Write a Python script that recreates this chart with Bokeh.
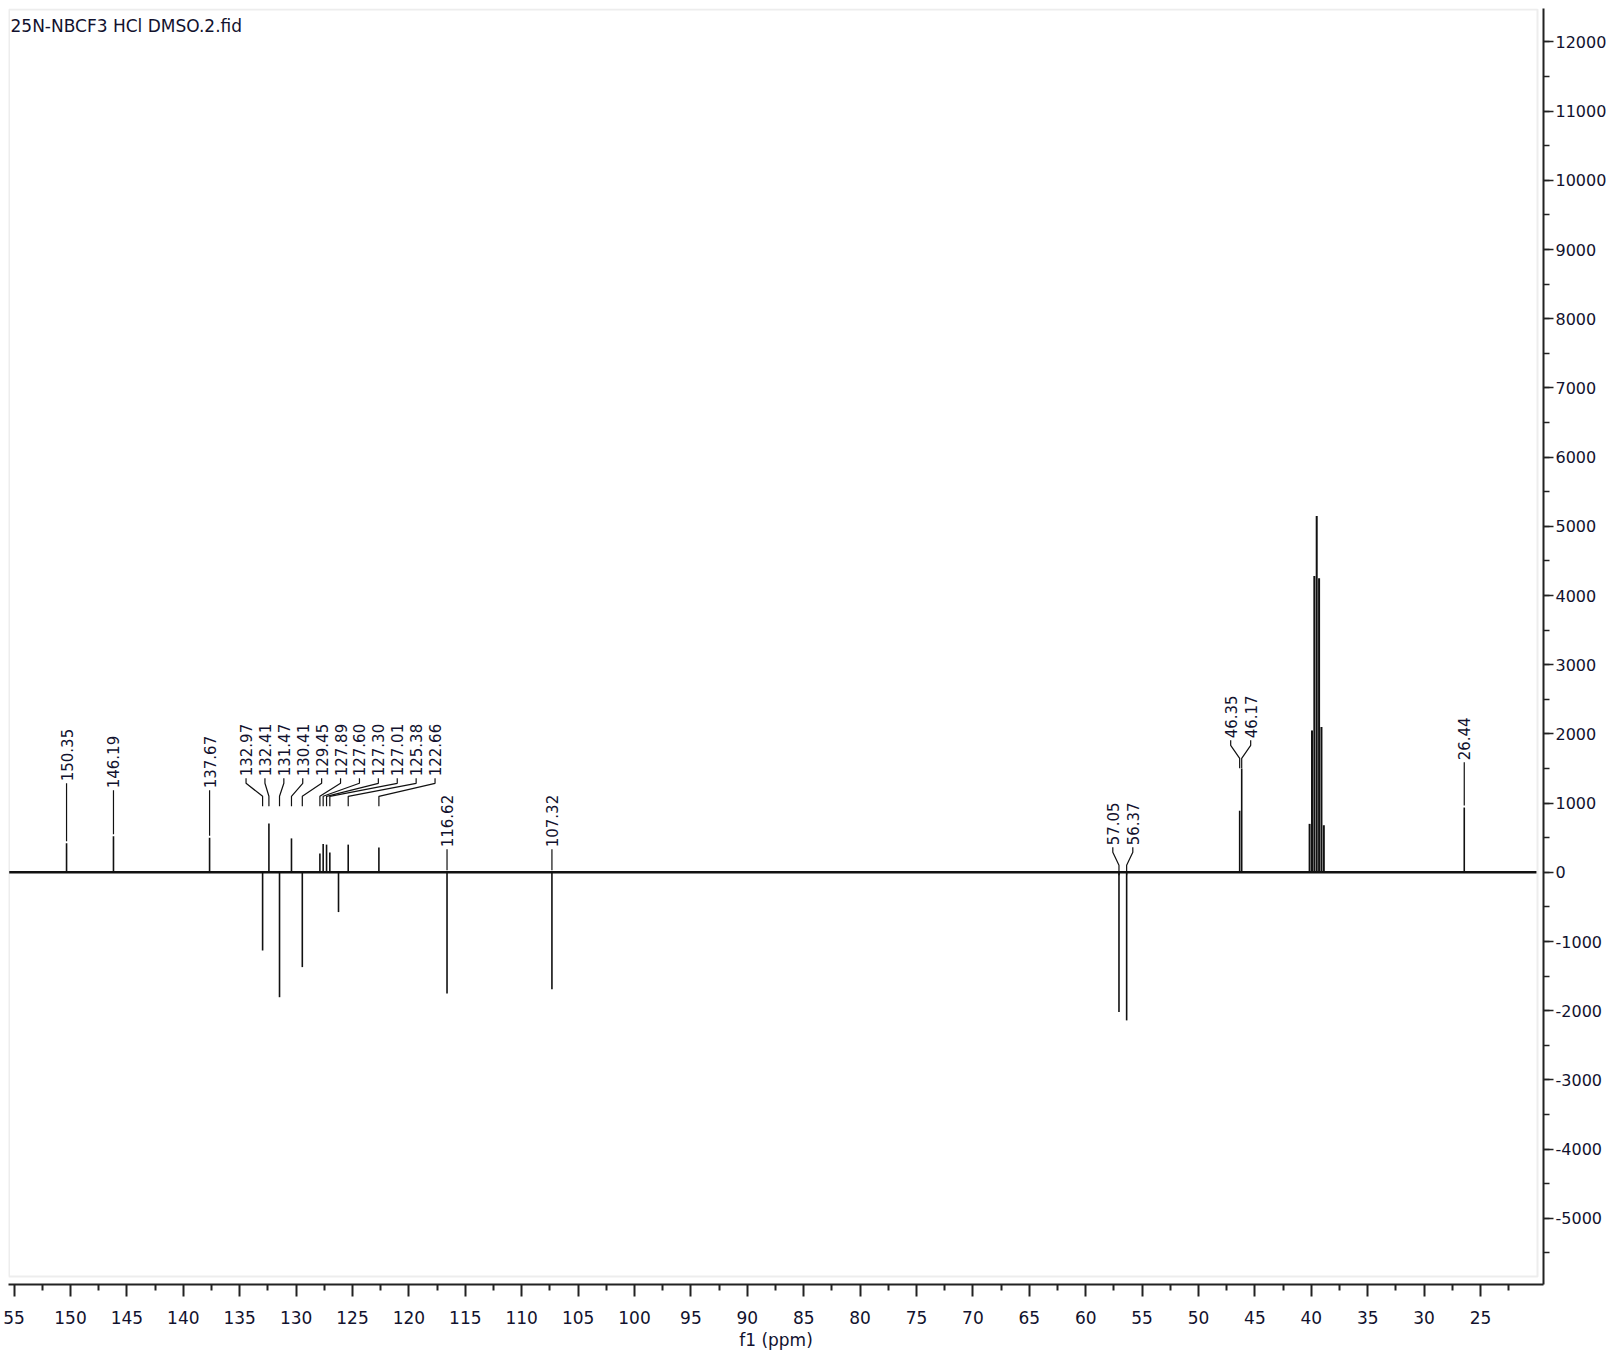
import numpy as np
from bokeh.plotting import figure
from bokeh.models import (Range1d, SingleIntervalTicker, FixedTicker, BoxAnnotation,
                          ColumnDataSource, Label, PrintfTickFormatter)
from bokeh.embed import file_html
from bokeh.resources import INLINE
from bokeh.core.properties import value

# ---------------- data ----------------
TITLE = "25N-NBCF3 HCl DMSO.2.fid"
X_LABEL = "f1 (ppm)"

# labelled / visible peaks: chemical shift (ppm) and signed intensity
peak_ppm = [150.35, 146.19, 137.67, 132.97, 132.41, 131.47, 130.41, 129.45,
            127.89, 127.60, 127.30, 127.01, 126.24, 125.38, 122.66,
            116.62, 107.32, 57.05, 56.37, 46.35, 46.17, 26.44]
peak_int = [420, 520, 500, -1130, 705, -1805, 490, -1370,
            270, 410, 400, 285, -575, 400, 360,
            -1750, -1690, -2020, -2140, 890, 1500, 936]

# DMSO-d6 septet
dmso_ppm = [40.15, 39.94, 39.73, 39.52, 39.31, 39.10, 38.89]
dmso_int = [700, 2050, 4280, 5150, 4250, 2100, 680]

# x tick values shown (ppm)
x_major_ticks = [155, 150, 145, 140, 135, 130, 125, 120, 115, 110, 105, 100, 95,
                 90, 85, 80, 75, 70, 65, 60, 55, 50, 45, 40, 35, 30, 25]

# peak-label groups (labels are the shifts themselves)
label_groups = [
    [150.35], [146.19], [137.67],
    [132.97, 132.41, 131.47, 130.41, 129.45, 127.89, 127.60, 127.30, 127.01, 125.38, 122.66],
    [116.62], [107.32], [57.05, 56.37], [46.35, 46.17], [26.44],
]

# ---------------- layout helpers (page pixels -> data) ----------------
PX_PER_PPM = 11.28
PX_PER_1000 = 69.2
X_REF_PX, X_REF_PPM = 70.0, 150.0
Y_ZERO_PX = 871.8


def ppm_at(px):
    return X_REF_PPM - (px - X_REF_PX) / PX_PER_PPM


def val_at(py):
    return (Y_ZERO_PX - py) * 1000.0 / PX_PER_1000


def dval(px):
    return px * 1000.0 / PX_PER_1000


FRAME_L, FRAME_R, FRAME_T, FRAME_B = 8, 1543, 8, 1284

p = figure(frame_width=FRAME_R - FRAME_L, frame_height=FRAME_B - FRAME_T,
           x_range=Range1d(ppm_at(FRAME_L), ppm_at(FRAME_R)),
           y_range=Range1d(val_at(FRAME_B), val_at(FRAME_T)),
           output_backend="svg", toolbar_location=None,
           x_axis_location="below", y_axis_location="right",
           min_border=0, min_border_left=FRAME_L, min_border_top=FRAME_T,
           background_fill_color="white", border_fill_color="white")
p.outline_line_color = None
p.xgrid.visible = False
p.ygrid.visible = False

FONT_NAME = "DejaVu Sans"
FONT = value(FONT_NAME)
TXT = "#12122e"

# grey frame box of the spectrum window
p.add_layout(BoxAnnotation(left=ppm_at(8.5), right=ppm_at(1537), top=val_at(9), bottom=val_at(1276),
                           fill_alpha=0, line_color="#c4c4c4", line_width=2))

# axes
minor = [t - 2.5 for t in x_major_ticks] + [x_major_ticks[0] + 2.5]
xa = p.xaxis[0]
xa.ticker = FixedTicker(ticks=x_major_ticks, minor_ticks=minor)
xa.major_label_overrides = {155: "55"}
xa.axis_label = X_LABEL
xa.axis_label_text_font = FONT_NAME
xa.axis_label_text_font_style = "normal"
xa.axis_label_text_font_size = "17px"
xa.axis_label_text_color = TXT
xa.axis_label_standoff = 3
xa.major_label_text_font = FONT_NAME
xa.major_label_text_font_size = "17px"
xa.major_label_text_color = TXT
xa.major_label_standoff = 14
xa.major_tick_in = 0
xa.major_tick_out = 12
xa.minor_tick_in = 0
xa.minor_tick_out = 6
xa.axis_line_width = 2
xa.axis_line_color = "#222222"
xa.major_tick_line_width = 2
xa.minor_tick_line_width = 2
xa.major_tick_line_color = "#222222"
xa.minor_tick_line_color = "#222222"

ya = p.yaxis[0]
ya.ticker = SingleIntervalTicker(interval=1000, num_minor_ticks=2)
ya.formatter = PrintfTickFormatter(format="%d")
ya.major_label_text_font = FONT_NAME
ya.major_label_text_font_size = "16px"
ya.major_label_text_color = TXT
ya.major_label_standoff = 2
ya.major_tick_in = 0
ya.major_tick_out = 10
ya.minor_tick_in = 0
ya.minor_tick_out = 6
ya.axis_line_width = 2
ya.axis_line_color = "#222222"
ya.major_tick_line_width = 1.5
ya.minor_tick_line_width = 1.5
ya.major_tick_line_color = "#222222"
ya.minor_tick_line_color = "#222222"

# baseline of the spectrum
p.line(x=[ppm_at(8.5), ppm_at(1536)], y=[0, 0], line_color="#111111", line_width=2.4)

# peaks
p.segment(x0=peak_ppm, y0=[0] * len(peak_ppm), x1=peak_ppm, y1=peak_int,
          line_color="#111111", line_width=1.6)
p.segment(x0=dmso_ppm, y0=[0] * len(dmso_ppm), x1=dmso_ppm, y1=dmso_int,
          line_color="#111111", line_width=2.0)

# label layout (per group): label bottom height above baseline in px, spacing px, shift px
group_layout = [
    (89, 19, 0), (82, 19, 0), (82, 19, 0),
    (94, 18.9, 28.6),
    (23, 19, 0), (23, 19, 0), (25, 20, 0), (132, 20, 0), (110, 19, 0),
]

lab_x, lab_y, lab_t = [], [], []
lead_xs, lead_ys = [], []
height_of = dict(zip(peak_ppm, peak_int))
for grp, (bottom_px, spacing_px, shift_px) in zip(label_groups, group_layout):
    n = len(grp)
    centre_px = X_REF_PX + (X_REF_PPM - np.mean(grp)) * PX_PER_PPM + shift_px
    yb = dval(bottom_px)
    for i, ppm in enumerate(grp):
        lx = ppm_at(centre_px + (i - (n - 1) / 2) * spacing_px)
        lab_x.append(lx)
        lab_y.append(yb + dval(2))
        lab_t.append(f"{ppm:.2f}")
        h = height_of[ppm]
        if n == 1:
            end = max(h, 0) + dval(2)
            lead_xs.append([lx, ppm])
            lead_ys.append([yb, end])
        else:
            end = yb - dval(28)
            if h > end:
                end = h + dval(3)
            lead_xs.append([lx, lx, ppm, ppm])
            lead_ys.append([yb, yb - dval(5), yb - dval(18), end])

p.multi_line(xs=lead_xs, ys=lead_ys, line_color="#111111", line_width=1.2)

src = ColumnDataSource(dict(x=lab_x, y=lab_y, t=lab_t))
p.text(x="x", y="y", text="t", source=src, angle=np.pi / 2,
       text_align="left", text_baseline="middle",
       text_font=FONT, text_font_size="15px", text_color=TXT)

# file name title
p.add_layout(Label(x=ppm_at(10), y=val_at(15), text=TITLE, text_font=FONT_NAME,
                   text_font_size="17px", text_color=TXT, text_baseline="top", text_align="left"))

open("out.html", "w").write(file_html(p, INLINE))
